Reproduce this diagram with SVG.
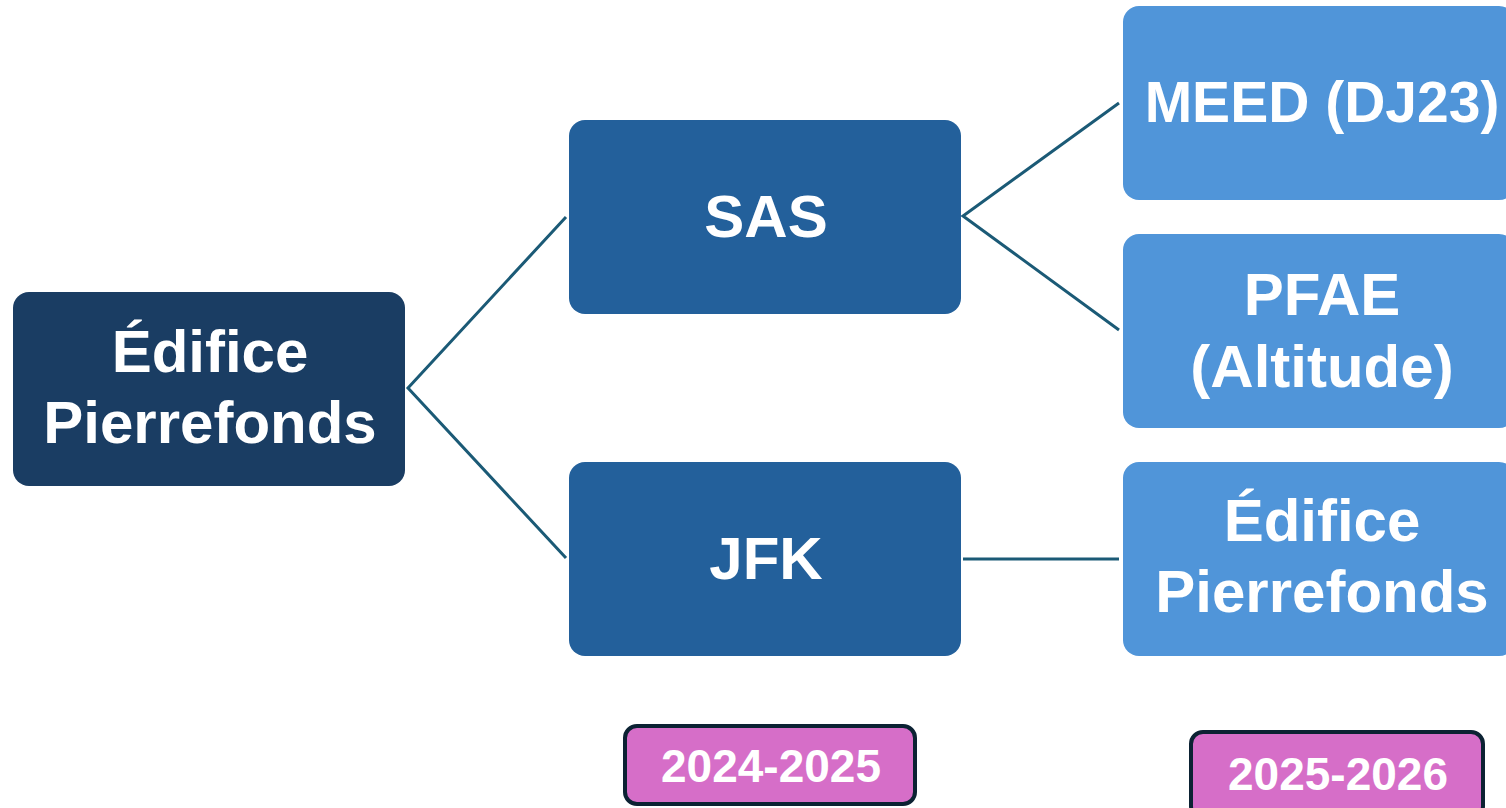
<svg xmlns="http://www.w3.org/2000/svg" width="1506" height="808" viewBox="0 0 1506 808">
<style>
.t{font-family:"Liberation Sans",Arial,sans-serif;font-weight:bold;fill:#fff;text-anchor:middle;font-size:60px}
.b{font-family:"Liberation Sans",Arial,sans-serif;font-weight:bold;fill:#fff;text-anchor:middle;font-size:46px}
.c{stroke:#1b5a76;stroke-width:3;fill:none}
.badge{fill:#d66ec8;stroke:#0c2233;stroke-width:4}
</style>
<rect width="1506" height="808" fill="#fff"/>
<g id="connectors">
<path class="c" d="M566,217 L408,388 L566,558"/>
<path class="c" d="M1119,103 L963,216 L1119,330"/>
<path class="c" d="M963,559 L1119,559"/>
</g>
<g id="root">
<rect x="13" y="292" width="392" height="194" rx="16" fill="#1a3d63"/>
<text class="t" x="210" y="372">Édifice</text>
<text class="t" x="210" y="443">Pierrefonds</text>
</g>
<g id="sas">
<rect x="569" y="120" width="392" height="194" rx="16" fill="#23609b"/>
<text class="t" x="766" y="237">SAS</text>
</g>
<g id="jfk">
<rect x="569" y="462" width="392" height="194" rx="16" fill="#23609b"/>
<text class="t" x="766" y="579">JFK</text>
</g>
<g id="meed">
<rect x="1123" y="6" width="392" height="194" rx="16" fill="#5095d9"/>
<text class="t" x="1322" y="122" style="font-size:57px">MEED (DJ23)</text>
</g>
<g id="pfae">
<rect x="1123" y="234" width="392" height="194" rx="16" fill="#5095d9"/>
<text class="t" x="1322" y="315">PFAE</text>
<text class="t" x="1322" y="387">(Altitude)</text>
</g>
<g id="edifice2">
<rect x="1123" y="462" width="392" height="194" rx="16" fill="#5095d9"/>
<text class="t" x="1322" y="541">Édifice</text>
<text class="t" x="1322" y="612">Pierrefonds</text>
</g>
<g id="badge1">
<rect class="badge" x="625" y="726" width="290" height="78" rx="12"/>
<text class="b" x="771" y="782">2024-2025</text>
</g>
<g id="badge2">
<rect class="badge" x="1191" y="732" width="292" height="86" rx="12"/>
<text class="b" x="1338" y="790">2025-2026</text>
</g>
</svg>
